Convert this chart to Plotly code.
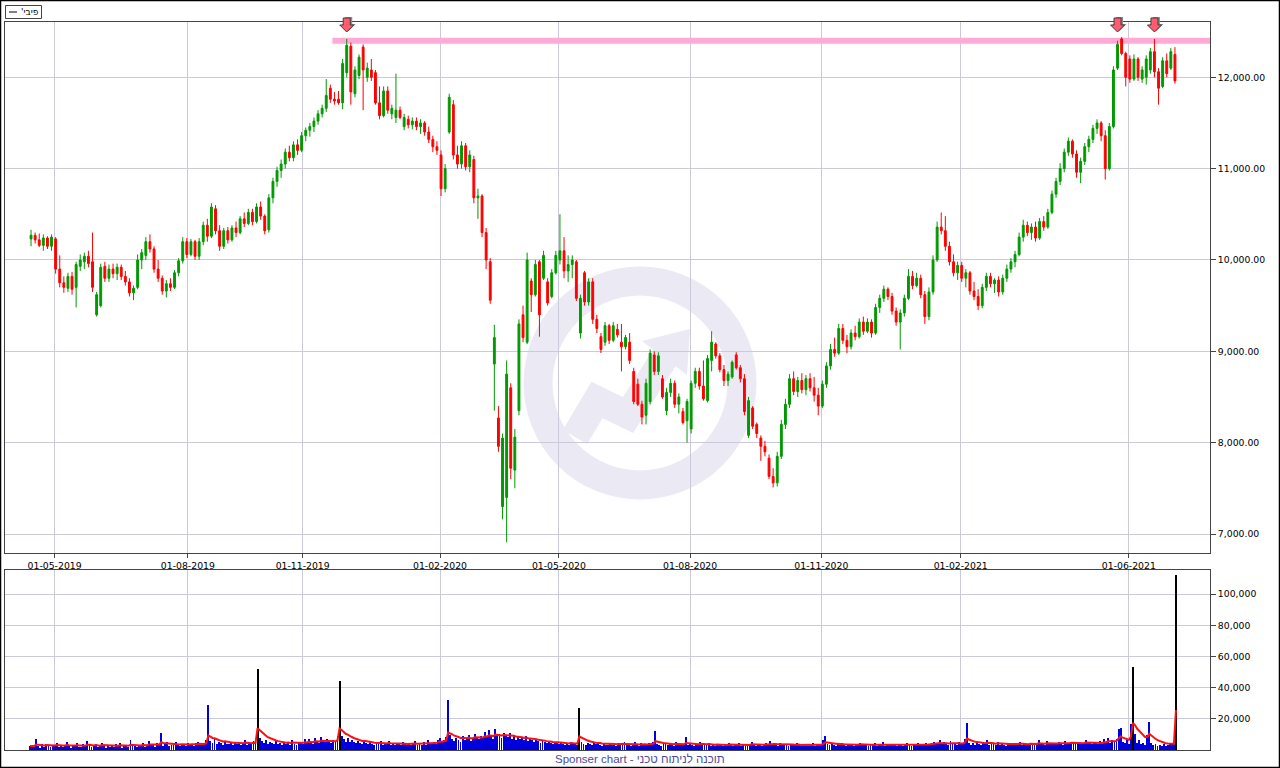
import pandas as pd
import plotly.graph_objects as go

# ---------------- data ----------------
ticker = "פיבי'"
footer_text = "Sponser chart - תוכנה לניתוח טכני"

month_labels = ["01-05-2019", "01-08-2019", "01-11-2019", "01-02-2020", "01-05-2020",
                "01-08-2020", "01-11-2020", "01-02-2021", "01-06-2021"]
month_start_day = [12, 77, 133, 200, 258, 322, 386, 454, 536]   # trading-day index

# two-trading-day candles
price_open = [
    10230, 10270, 10220, 10160, 10240, 10150, 10230, 9900, 9750, 9690,
    9820, 9700, 9930, 9980, 10040, 9980, 9400, 9500, 9930, 9800,
    9900, 9850, 9920, 9820, 9760, 9640, 9700, 10000, 10050, 10200,
    10120, 9900, 9800, 9660, 9740, 9700, 9860, 9990, 10200, 10060,
    10200, 10040, 10200, 10380, 10260, 10560, 10320, 10150, 10320, 10220,
    10350, 10300, 10450, 10400, 10520, 10420, 10580, 10480, 10330, 10680,
    10860, 10980, 11050, 11180, 11120, 11260, 11200, 11360, 11420, 11460,
    11520, 11600, 11660, 11880, 11760, 11760, 11720, 12050, 12340, 11820,
    12020, 12330, 12000, 12080, 12050, 11720, 11580, 11850, 11600, 11560,
    11640, 11460, 11540, 11480, 11520, 11460, 11500, 11400, 11320, 11240,
    11150, 10780, 11400, 11700, 11150, 11050, 11250, 11020, 11100, 10680,
    10700, 10300, 9980, 8860, 8270, 7300, 7400, 8600, 7700, 8350,
    9400, 9100, 9770, 9620, 9980, 9800, 9760, 9600, 9860, 10000,
    10100, 9880, 9950, 9980, 9200, 9860, 9540, 9760, 9350, 9160,
    9100, 9280, 9120, 9240, 9100, 9050, 9100, 8780, 8640, 8420,
    8300, 8450, 8960, 8780, 8700, 8350, 8550, 8650, 8420, 8340,
    8240, 8150, 8650, 8780, 8620, 8460, 8900, 9080, 8950, 8800,
    8680, 8720, 8960, 8820, 8700, 8080, 8380, 8200, 8050, 7960,
    7830, 7630, 7560, 7850, 8200, 8420, 8700, 8560, 8680, 8580,
    8700, 8600, 8520, 8400, 8640, 8840, 9020, 8980, 9250, 9120,
    9050, 9200, 9160, 9320, 9220, 9320, 9200, 9480, 9580, 9680,
    9600, 9440, 9320, 9420, 9580, 9820, 9720, 9800, 9620, 9380,
    9650, 10000, 10360, 10320, 10150, 9980, 9860, 9940, 9800, 9860,
    9660, 9600, 9500, 9700, 9820, 9740, 9780, 9650, 9800, 9900,
    9980, 10060, 10250, 10380, 10300, 10360, 10240, 10420, 10360, 10520,
    10720, 10860, 11000, 11180, 11300, 11160, 10960, 11080, 11240, 11320,
    11440, 11500, 11360, 11000, 11460, 12100, 12420, 12260, 12200, 11980,
    12200, 11980, 12000, 12080, 12280, 12060, 11900, 12180, 12100, 12250,
]
price_high = [
    10330, 10300, 10290, 10280, 10260, 10280, 10250, 10050, 9820, 9860,
    9870, 9980, 10060, 10080, 10100, 10300, 9650, 9960, 9980, 9950,
    9960, 9960, 9950, 9880, 9800, 9720, 10060, 10120, 10250, 10280,
    10150, 10000, 9830, 9780, 9800, 9890, 10020, 10250, 10240, 10230,
    10220, 10240, 10420, 10450, 10620, 10600, 10380, 10350, 10360, 10380,
    10420, 10480, 10520, 10560, 10560, 10620, 10640, 10500, 10720, 10900,
    11020, 11100, 11220, 11250, 11300, 11320, 11400, 11450, 11500, 11560,
    11640, 11700, 11980, 11920, 11840, 11850, 12200, 12420, 12380, 12120,
    12250, 12360, 12160, 12200, 12080, 11900, 11900, 11900, 11700, 12040,
    11680, 11600, 11580, 11560, 11560, 11540, 11520, 11460, 11360, 11300,
    11200, 11050, 11820, 11750, 11250, 11300, 11280, 11200, 11140, 10780,
    10720, 10350, 10020, 9290, 8400, 8100, 8900, 8650, 8150, 9350,
    9500, 10080, 9800, 10000, 10000, 10100, 9800, 9900, 10100, 10500,
    10250, 10050, 10050, 10000, 9620, 9880, 9800, 9800, 9400, 9200,
    9320, 9300, 9320, 9300, 9300, 9180, 9200, 8820, 8700, 8460,
    8700, 9020, 9000, 8990, 8740, 8600, 8700, 8680, 8540, 8380,
    8480, 8680, 8820, 8820, 8900, 8960, 9220, 9100, 8980, 8850,
    8780, 8900, 8990, 8850, 8750, 8500, 8400, 8220, 8080, 8020,
    7870, 7720, 7900, 8250, 8480, 8750, 8780, 8720, 8760, 8740,
    8760, 8720, 8600, 8680, 8880, 9080, 9150, 9300, 9300, 9180,
    9240, 9280, 9360, 9380, 9360, 9350, 9520, 9620, 9720, 9700,
    9640, 9480, 9460, 9620, 9900, 9880, 9860, 9840, 9660, 9700,
    10050, 10420, 10520, 10480, 10200, 10060, 9980, 9980, 9900, 9880,
    9760, 9680, 9740, 9860, 9860, 9800, 9820, 9840, 9950, 10020,
    10100, 10300, 10440, 10420, 10400, 10420, 10460, 10480, 10560, 10760,
    10900, 11060, 11220, 11340, 11320, 11200, 11120, 11280, 11360, 11480,
    11540, 11520, 11420, 11500, 12120, 12400, 12440, 12280, 12240, 12250,
    12220, 12120, 12240, 12320, 12420, 12100, 12220, 12260, 12320, 12330,
]
price_low = [
    10150, 10180, 10140, 10100, 10120, 10100, 9850, 9700, 9640, 9650,
    9620, 9480, 9880, 9900, 9920, 9650, 9380, 9480, 9760, 9760,
    9800, 9780, 9780, 9720, 9600, 9560, 9680, 9900, 10000, 10080,
    9860, 9760, 9620, 9590, 9660, 9680, 9820, 9960, 10020, 10040,
    10000, 10000, 10160, 10200, 10240, 10280, 10100, 10120, 10180, 10200,
    10250, 10280, 10360, 10380, 10380, 10400, 10440, 10280, 10300, 10620,
    10800, 10900, 11000, 11080, 11080, 11150, 11180, 11300, 11350, 11400,
    11480, 11560, 11620, 11720, 11700, 11700, 11650, 12000, 11700, 11780,
    11980, 11640, 11950, 11960, 11700, 11540, 11560, 11600, 11540, 11500,
    11540, 11420, 11440, 11430, 11420, 11380, 11360, 11280, 11180, 11150,
    10700, 10740, 11380, 11100, 11000, 11000, 10980, 10960, 10620, 10450,
    10250, 9900, 9520, 8350, 7900, 7160, 6910, 7600, 7500, 8300,
    9100, 9080, 9430, 9600, 9160, 9780, 9500, 9580, 9840, 9950,
    9800, 9760, 9800, 9550, 9140, 9500, 9500, 9300, 9200, 8980,
    9060, 9080, 9100, 9150, 8780, 9020, 8860, 8420, 8400, 8200,
    8200, 8420, 8740, 8740, 8480, 8300, 8500, 8380, 8320, 8200,
    8000, 8100, 8600, 8580, 8460, 8440, 8780, 8920, 8770, 8620,
    8620, 8700, 8800, 8660, 8300, 8050, 8150, 8050, 7800, 7850,
    7600, 7510, 7520, 7820, 8150, 8380, 8520, 8500, 8540, 8520,
    8560, 8450, 8300, 8380, 8600, 8800, 8940, 8960, 9080, 8980,
    9020, 9120, 9140, 9180, 9200, 9150, 9180, 9420, 9540, 9560,
    9400, 9280, 9020, 9380, 9560, 9680, 9700, 9580, 9300, 9340,
    9620, 9980, 10280, 10100, 9940, 9820, 9780, 9760, 9700, 9620,
    9560, 9450, 9470, 9660, 9700, 9640, 9600, 9620, 9760, 9860,
    9920, 10040, 10200, 10260, 10220, 10200, 10220, 10320, 10340, 10500,
    10680, 10820, 10960, 11140, 11120, 10900, 10840, 11040, 11180, 11280,
    11380, 11300, 10880, 10980, 11440, 12080, 12240, 11900, 11940, 11960,
    11960, 11940, 11920, 12040, 12000, 11700, 11880, 12000, 12080, 11930,
]
price_close = [
    10270, 10220, 10160, 10240, 10150, 10250, 9900, 9750, 9700, 9820,
    9680, 9950, 10000, 10040, 9960, 9700, 9620, 9920, 9800, 9900,
    9850, 9920, 9820, 9760, 9640, 9690, 10000, 10080, 10200, 10120,
    9900, 9800, 9660, 9740, 9700, 9860, 9990, 10200, 10060, 10200,
    10040, 10200, 10380, 10260, 10580, 10320, 10150, 10320, 10220, 10350,
    10300, 10450, 10400, 10520, 10420, 10580, 10480, 10320, 10680, 10860,
    10980, 11050, 11180, 11120, 11260, 11200, 11360, 11420, 11460, 11520,
    11600, 11660, 11800, 11760, 11740, 11720, 12150, 12350, 11840, 12080,
    12220, 12080, 12100, 12000, 11720, 11580, 11850, 11640, 11660, 11640,
    11560, 11560, 11480, 11520, 11460, 11500, 11400, 11320, 11240, 11200,
    10780, 11000, 11780, 11150, 11050, 11250, 11020, 11150, 10680, 10700,
    10300, 10000, 9560, 9150, 7960, 8050, 8750, 7720, 8060, 9300,
    9150, 10000, 9620, 9950, 9400, 10050, 9530, 9860, 10050, 10100,
    9880, 9950, 10000, 9580, 9580, 9540, 9760, 9350, 9250, 9020,
    9280, 9120, 9280, 9180, 9050, 9150, 8900, 8450, 8420, 8280,
    8650, 8980, 8780, 8950, 8500, 8550, 8650, 8420, 8500, 8220,
    8450, 8650, 8780, 8620, 8480, 8920, 9100, 8950, 8800, 8680,
    8750, 8880, 8820, 8700, 8340, 8460, 8180, 8100, 7960, 7900,
    7630, 7560, 7850, 8200, 8420, 8700, 8560, 8680, 8580, 8700,
    8600, 8520, 8400, 8640, 8840, 9020, 8980, 9250, 9120, 9050,
    9200, 9160, 9320, 9220, 9320, 9200, 9480, 9580, 9680, 9600,
    9440, 9320, 9420, 9580, 9820, 9720, 9800, 9620, 9380, 9650,
    10000, 10360, 10320, 10150, 9980, 9860, 9940, 9800, 9860, 9660,
    9600, 9500, 9700, 9820, 9740, 9780, 9650, 9800, 9900, 9980,
    10060, 10250, 10380, 10300, 10360, 10240, 10420, 10360, 10520, 10720,
    10860, 11000, 11180, 11300, 11160, 10960, 11080, 11240, 11320, 11440,
    11500, 11360, 11000, 11460, 12080, 12360, 12260, 12000, 11980, 12200,
    12000, 12080, 12200, 12280, 12060, 11880, 12180, 12040, 12280, 11960,
]

# daily volume
volume = [
    2600, 3100, 1800, 7200, 2400, 1500, 3800, 2200, 4100, 2900, 1700, 3300, 2500, 4600, 2000, 3500, 1900, 2800, 5200, 2300,
    1600, 3000, 2700, 4400, 2100, 1800, 3600, 2400, 5600, 3100, 2000, 2600, 3900, 1700, 2300, 4800, 2900, 1500, 3400, 2200,
    2800, 1900, 3700, 2500, 4200, 1600, 3200, 2700, 2100, 6100, 3000, 2400, 1800, 3500, 2600, 4300, 2000, 3100, 5800, 2900,
    3600, 2200, 4500, 3300, 11200, 2700, 3800, 4900, 2500, 3400, 2900, 5100, 3600, 2300, 4000, 3100, 2700, 4700, 3300, 3900,
    2800, 4200, 5300, 3400, 2900, 4600, 6200, 29000, 5800, 4400, 6900, 3700, 5100, 4300, 3300, 6000, 4100, 3600, 5400, 3000,
    4700, 3800, 5200, 3500, 4100, 6300, 3300, 4600, 3900, 5700, 4200, 52000, 7400, 5900, 4800, 6600, 3800, 5100, 4300, 3600,
    5500, 3900, 4400, 3200, 5000, 3700, 4800, 3300, 6100, 4000, 3500, 5300, 4600, 3800, 7200, 4400, 6800, 5200, 4100, 7900,
    5600, 4500, 8300, 6000, 4900, 7100, 5300, 4400, 6400, 5000, 8800, 44000, 9200, 6800, 5400, 7700, 4900, 6200, 5100, 4300,
    5800, 4600, 3900, 6500, 4200, 3600, 5200, 4000, 3400, 4700, 3800, 5500, 3300, 4100, 3700, 6000, 3500, 4400, 3200, 3900,
    4300, 3100, 5000, 3600, 2900, 4500, 3400, 3800, 5600, 3000, 4200, 3500, 4900, 3300, 6200, 3700, 4600, 5300, 4100, 6700,
    7400, 5200, 6100, 8200, 32000, 9600, 6800, 5500, 7900, 6300, 5100, 8700, 6500, 7200, 9800, 6000, 7600, 10500, 8100, 6900,
    9300, 7500, 11800, 8400, 12600, 9000, 7100, 13500, 8800, 10200, 7700, 11000, 9400, 8200, 10700, 7300, 9100, 6600, 8500, 7000,
    7800, 6200, 8900, 5700, 7200, 6400, 5300, 6900, 5600, 4800, 6300, 5000, 4400, 5800, 4700, 3900, 5200, 4300, 3600, 4900,
    4100, 3500, 4600, 3200, 5400, 3800, 4400, 3100, 27000, 5100, 4000, 3400, 4700, 3700, 3000, 4300, 3600, 5000, 3300, 2800,
    4200, 3500, 2900, 4800, 3300, 3900, 2700, 4400, 3100, 3600, 5300, 3000, 4100, 2800, 3700, 4900, 3200, 2600, 4500, 3400,
    3800, 2900, 4300, 3500, 5100, 12400, 4000, 3300, 2800, 4600, 3700, 3000, 4200, 3400, 2700, 5000, 3600, 2900, 3900, 3200,
    8100, 3500, 4700, 3100, 2600, 4000, 3300, 5200, 2900, 3700, 3200, 4400, 2800, 3600, 2500, 4100, 3000, 3400, 2700, 3800,
    2900, 4300, 3300, 2600, 3700, 3100, 4600, 2800, 3500, 2400, 3900, 3000, 5400, 3300, 2700, 4100, 3200, 2500, 3600, 4400,
    3800, 5900, 3400, 4200, 3100, 2800, 4700, 3500, 3000, 4000, 2600, 3600, 3300, 2900, 4500, 3100, 2500, 3800, 3400, 2800,
    3700, 3000, 4200, 2700, 3400, 3900, 2900, 6500, 9000, 4100, 3200, 4600, 3500, 2800, 3900, 3100, 4400, 3300, 2700, 3600,
    3000, 4100, 2600, 3500, 3200, 4700, 2900, 3700, 3100, 2500, 3800, 3300, 4300, 2800, 3400, 3000, 5100, 2700, 3600, 3200,
    2900, 3800, 3400, 2600, 4000, 3100, 2800, 3500, 4400, 3000, 2700, 3600, 3300, 4800, 2900, 3700, 3200, 4200, 3500, 3900,
    4600, 5300, 3800, 4400, 6200, 3600, 4900, 4100, 3400, 5600, 3900, 4500, 3200, 5000, 3700, 4300, 6800, 17500, 4600, 3500,
    4200, 3300, 5100, 3800, 2900, 4400, 3600, 6100, 3200, 4700, 3900, 3000, 5400, 3500, 4100, 3300, 2800, 4600, 3400, 3900,
    3100, 4500, 3700, 5200, 3300, 4000, 2900, 3800, 4800, 3500, 3200, 4300, 6300, 3600, 4100, 3400, 5500, 3900, 4700, 3700,
    4400, 3800, 5100, 4200, 3500, 6000, 4600, 3900, 5400, 4300, 3700, 5000, 4100, 3600, 4800, 6200, 4400, 5300, 3900, 4700,
    4300, 3800, 5600, 4100, 6800, 5200, 7900, 4600, 6400, 5500, 7000, 13500, 13800, 5100, 4400, 6400, 3900, 17000, 53000, 10200,
    4800, 6100, 3900, 4600, 3500, 9600, 18000, 4700, 3200, 4100, 2600, 3400, 2800, 3700, 2500, 3100, 4400, 4300, 3600, 112000,
]
heavy_volume_days = [111, 151, 268, 538, 559]   # bars drawn in black
resistance_level = 12400
peak_bars = [77, 265, 274]

# ---------------- derived ----------------
bar_day = [2 * i + 0.5 for i in range(len(price_close))]
vol_day = list(range(len(volume)))
vol_avg = pd.Series(volume, dtype=float).ewm(alpha=0.2, adjust=False).mean()
vol_colors = ["#000000" if d in heavy_volume_days else "#0000dd" for d in vol_day]

# ---------------- figure ----------------
FONT = "DejaVu Sans"
GRID = "#cbcadb"
FRAME = "#444444"
W, H = 1280, 768
L, R, T, B = 5, 70, 22, 18
PW, PH = W - L - R, H - T - B

def px_x(px):
    return (px - L) / PW

def px_y(py):
    return (H - B - py) / PH

x_range = [-12.2, 575.6]

fig = go.Figure()
fig.add_trace(go.Candlestick(
    x=bar_day, open=price_open, high=price_high, low=price_low, close=price_close,
    xaxis="x", yaxis="y", whiskerwidth=0,
    increasing=dict(line=dict(color="#009900", width=1), fillcolor="#009900"),
    decreasing=dict(line=dict(color="#ff0000", width=1), fillcolor="#ff0000"),
    showlegend=False, hoverinfo="skip"))
fig.add_trace(go.Bar(
    x=vol_day, y=volume, xaxis="x2", yaxis="y2", width=0.45,
    marker=dict(color=vol_colors, line=dict(width=0)), showlegend=False, hoverinfo="skip"))
fig.add_trace(go.Scatter(
    x=vol_day, y=vol_avg, xaxis="x2", yaxis="y2", mode="lines",
    line=dict(color="#ff1010", width=2), showlegend=False, hoverinfo="skip"))

common = dict(showline=True, mirror=True, linecolor=FRAME, linewidth=1,
              showgrid=True, gridcolor=GRID, gridwidth=1, zeroline=False,
              tickfont=dict(family=FONT, size=9.3, color="black"))

fig.update_layout(
    width=W, height=H, margin=dict(l=L, r=R, t=T, b=B),
    paper_bgcolor="white", plot_bgcolor="rgba(0,0,0,0)",
    font=dict(family=FONT, size=9.3, color="black"),
    boxgap=0.35, bargap=0,
    xaxis=dict(domain=[0, 1], anchor="y", range=x_range, tickmode="array",
               tickvals=month_start_day, ticktext=month_labels,
               ticks="outside", ticklen=4, tickcolor=FRAME,
               rangeslider=dict(visible=False), **common),
    yaxis=dict(domain=[px_y(553), 1], anchor="x", side="right", range=[6792, 12605],
               tickmode="array", tickvals=[7000, 8000, 9000, 10000, 11000, 12000],
               tickformat=",.2f", ticks="outside", ticklen=5, tickcolor=FRAME, **common),
    xaxis2=dict(domain=[0, 1], anchor="y2", range=x_range, tickmode="array",
                tickvals=month_start_day, showticklabels=False, ticks="", **common),
    yaxis2=dict(domain=[0, px_y(570)], anchor="x2", side="right", range=[0, 115500],
                tickmode="array", tickvals=[20000, 40000, 60000, 80000, 100000],
                tickformat=",d", ticks="outside", ticklen=5, tickcolor=FRAME, **common),
)

# watermark logo
wm = dict(xref="paper", yref="paper", xsizemode="pixel", ysizemode="pixel",
          xanchor=px_x(640), yanchor=px_y(383), layer="below")
WM_COL = "#ebe9f3"
fig.add_shape(type="circle", x0=-102, x1=102, y0=-102, y1=102,
              line=dict(color=WM_COL, width=29), **wm)
fig.add_shape(type="path", path="M -65,-54 L -43,-17 L -12,-32 L 25,26",
              line=dict(color=WM_COL, width=28), **wm)
fig.add_shape(type="path", path="M 50,54 L 47,8 L 2,42 Z",
              fillcolor=WM_COL, line=dict(width=0), **wm)

# resistance line
fig.add_shape(type="line", xref="x", yref="y",
              x0=bar_day[peak_bars[0]] - 7, x1=x_range[1],
              y0=resistance_level, y1=resistance_level,
              line=dict(color="#ffaad6", width=6), layer="between")

# peak arrows
arrow = "M -3.5,4 L 3.5,4 L 3.5,-3 L 7,-3 L 0,-10 L -7,-3 L -3.5,-3 Z"
shadow = "M -1.5,5 L 5.5,5 L 5.5,-2 L 9,-2 L 2,-9 L -5,-2 L -1.5,-2 Z"
for b in peak_bars:
    base = dict(type="path", xref="x", yref="paper", xsizemode="pixel", ysizemode="pixel",
                xanchor=bar_day[b], yanchor=1, layer="above")
    fig.add_shape(path=shadow, fillcolor="#8c8c8c", line=dict(width=0), **base)
    fig.add_shape(path=arrow, fillcolor="#ff5c70", line=dict(color="#4a3a3a", width=1), **base)

# outer border
fig.add_shape(type="rect", xref="paper", yref="paper",
              x0=px_x(0.5), x1=px_x(1279.5), y0=px_y(767.5), y1=px_y(0.5),
              line=dict(color="black", width=1.5), layer="above")

# legend box: frame + line sample + name
fig.add_shape(type="rect", xref="paper", yref="paper",
              x0=px_x(5.5), x1=px_x(41.5), y0=px_y(18.5), y1=px_y(5.5),
              line=dict(color=FRAME, width=1), fillcolor="white", layer="above")
fig.add_shape(type="line", xref="paper", yref="paper",
              x0=px_x(9), x1=px_x(17), y0=px_y(12), y1=px_y(12),
              line=dict(color="black", width=1), layer="above")
fig.add_annotation(xref="paper", yref="paper", x=px_x(19), y=px_y(12),
                   xanchor="left", yanchor="middle", showarrow=False,
                   text=ticker + "\u200f",
                   font=dict(family=FONT, size=9, color="black"))

# footer
fig.add_annotation(xref="paper", yref="paper", x=px_x(640), y=px_y(759),
                   xanchor="center", yanchor="middle", showarrow=False,
                   text=footer_text,
                   font=dict(family="Liberation Sans", size=11.5, color="#4a4a9c"))

fig.write_html("out.html", config={"displayModeBar": False},
               post_script="document.body.style.margin='0';document.body.style.overflow='hidden';")
